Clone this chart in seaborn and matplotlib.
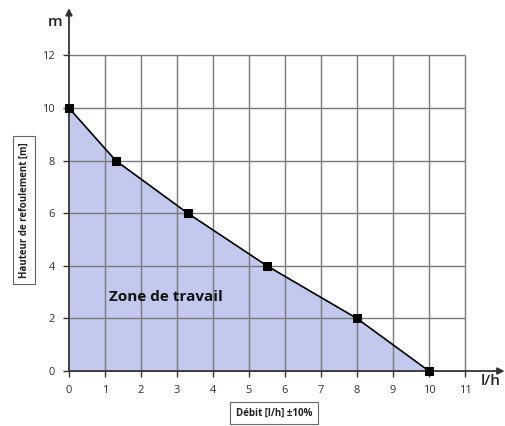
import numpy as np
import pandas as pd
import matplotlib
matplotlib.use('Agg')
import matplotlib.pyplot as plt
import seaborn as sns

# Data
debit = [0, 1.3, 3.3, 5.5, 8, 10]
hauteur = [10, 8, 6, 4, 2, 0]
x_ticks = list(range(0, 12))
y_ticks = [0, 2, 4, 6, 8, 10, 12]

df = pd.DataFrame({'debit': debit, 'hauteur': hauteur})

sns.set_style('white')
plt.rcParams['font.family'] = ['Open Sans', 'DejaVu Sans']

fig = plt.figure(figsize=(5.05, 4.26), dpi=100)
ax = fig.add_axes([0.1366, 0.129, 0.8626, 0.852])
ax.set_xlim(0, 12.1)
ax.set_ylim(0, 13.8)

# working zone fill
ax.fill_between(df['debit'], df['hauteur'], 0, color='#c3c8ee', zorder=1, lw=0)

# grid limited to 11 x 12
ax.vlines(x_ticks[1:], 0, 12, color='#7a7a7a', lw=1.0, zorder=2)
ax.hlines(y_ticks[1:], 0, 11, color='#7a7a7a', lw=1.0, zorder=2)

sns.lineplot(data=df, x='debit', y='hauteur', ax=ax, color='black', lw=1.2,
             marker='s', markersize=6, markeredgecolor='black', zorder=4,
             clip_on=False)

# axes with arrows
for s in ax.spines.values():
    s.set_visible(False)
ax.annotate('', xy=(1.0, 0), xycoords='axes fraction', xytext=(0, 0),
            arrowprops=dict(arrowstyle='-|>', color='#333333', lw=1.3,
                            mutation_scale=10, shrinkA=0, shrinkB=0), zorder=3)
ax.annotate('', xy=(0, 1.0), xycoords='axes fraction', xytext=(0, 0),
            arrowprops=dict(arrowstyle='-|>', color='#333333', lw=1.3,
                            mutation_scale=10, shrinkA=0, shrinkB=0), zorder=3)

ax.set_xticks(x_ticks)
ax.set_yticks(y_ticks)
ax.tick_params(axis='both', direction='out', length=4, width=1, color='#333333',
               labelsize=8, labelcolor='#333333', pad=6,
               bottom=True, left=True)
ax.set_xlabel('')
ax.set_ylabel('')

ax.text(1.1, 2.8, 'Zone de travail', fontsize=11, fontweight='bold',
        color='#111111', va='center', ha='left', zorder=5)

fig.text(55 / 505, 1 - 22 / 426, 'm', fontsize=11, fontweight='semibold',
         ha='center', va='center', color='#222222')
fig.text(491 / 505, 1 - 381 / 426, 'l/h', fontsize=11, fontweight='semibold',
         ha='center', va='center', color='#222222')

box = dict(boxstyle='square,pad=0.6', fc='white', ec='#666666', lw=0.8)
fig.text(24 / 505, 1 - 210 / 426, 'Hauteur de refoulement [m]', rotation=90,
         fontsize=7, fontweight='bold', ha='center', va='center',
         color='#222222', bbox=box)
fig.text(274 / 505, 1 - 413 / 426, 'Débit [l/h] ±10%', fontsize=7,
         fontweight='bold', ha='center', va='center', color='#222222', bbox=box)

fig.savefig('out.png', dpi=100)
